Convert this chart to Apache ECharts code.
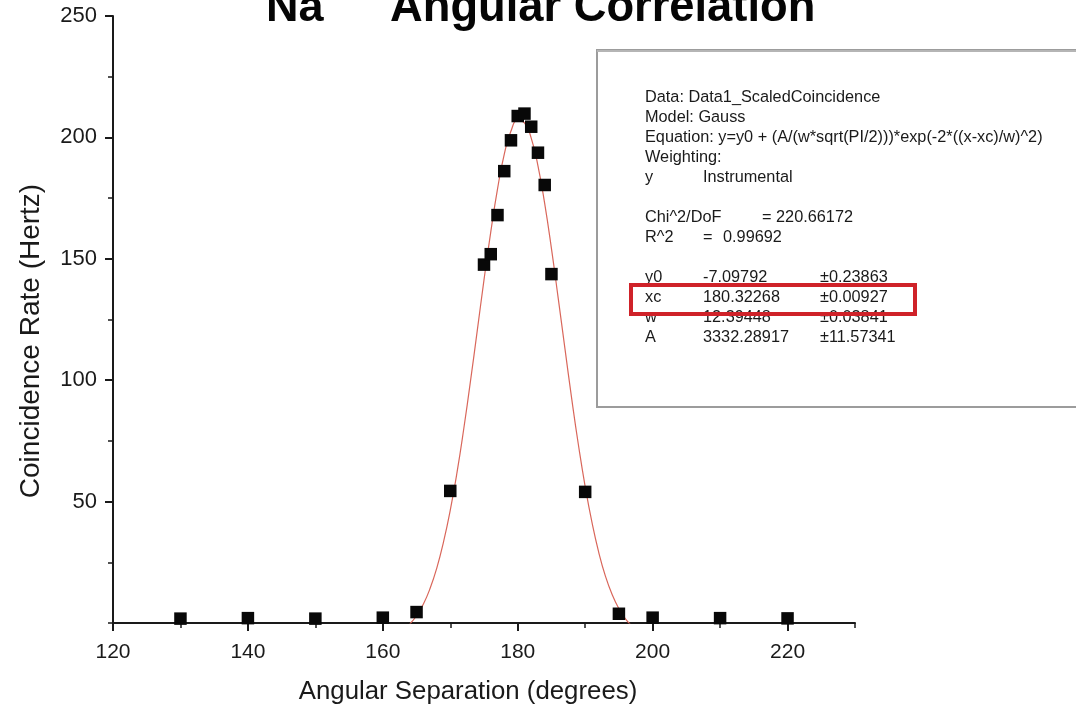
<!DOCTYPE html>
<html>
<head>
<meta charset="utf-8">
<script src="https://cdn.jsdelivr.net/npm/echarts@6/dist/echarts.min.js"></script>
<style>
html,body{margin:0;padding:0;background:#fff;}
#chart{width:1076px;height:711px;}
</style>
</head>
<body>
<div id="chart"></div>
<script>
// Measured data (angular separation in degrees, coincidence rate in Hz)
const angles = [130,140,150,160,165,170,175,176,177,178,179,180,181,182,183,184,185,190,195,200,210,220];
const rates  = [1.8,2.0,1.8,2.2,4.5,54.4,147.6,151.9,168.0,186.1,198.8,208.8,209.8,204.4,193.7,180.4,143.7,54.0,3.8,2.2,2.0,1.9];

// Fit curve (red line)
const fitAngles = [164,165,166,167,168,169,170,171,172,173,174,175,176,177,178,179,180,181,182,183,184,185,186,187,188,189,190,191,192,193,194,195,196,197];
const fitRates  = [-0.4,3,7.7,14.2,22.6,33.4,46.5,62,80,99.7,120.4,141.3,161,178.7,193,202.6,207,206,199.7,188.3,172.7,154.2,133.8,113,92.4,73.3,56.2,41.5,29.2,19.3,11.7,5.9,1.6,-1.4];

// Axis ticks
const xTickLabels = [120,140,160,180,200,220];
const yTickLabels = [50,100,150,200,250];

// Title and fit report text
const titleMain = 'Angular Correlation';
const titleElem = 'Na';
const titleSup = '22';
const reportLines = [
  ['Data: Data1_ScaledCoincidence'],
  ['Model: Gauss'],
  ['Equation: y=y0 + (A/(w*sqrt(PI/2)))*exp(-2*((x-xc)/w)^2)'],
  ['Weighting:'],
  ['y', 'Instrumental'],
  [],
  ['Chi^2/DoF', '= 220.66172'],
  ['R^2', '=', '0.99692'],
  [],
  ['y0', '-7.09792', '\u00b10.23863'],
  ['xc', '180.32268', '\u00b10.00927'],
  ['w', '12.39448', '\u00b10.03841'],
  ['A', '3332.28917', '\u00b111.57341']
];

const FONT = "'Liberation Sans', Arial, Helvetica, sans-serif";
const chart = echarts.init(document.getElementById('chart'), null, {renderer: 'canvas'});

function txt(x, y, s, size, opts) {
  opts = opts || {};
  return {
    type: 'text', x: x, y: y, rotation: opts.rotation || 0, z: 100,
    style: {
      text: s, x: 0, y: 0,
      fill: opts.color || '#111',
      font: (opts.bold ? 'bold ' : '') + size + 'px ' + FONT,
      align: opts.align || 'left', textAlign: opts.align || 'left',
      verticalAlign: 'middle', textVerticalAlign: 'middle'
    }
  };
}

const graphics = [];
// Title (top part clipped by the page edge)
graphics.push(txt(266, 9, titleElem, 45, {bold: true, color: '#050505'}));
graphics.push(txt(329, -22, titleSup, 27, {bold: true, color: '#050505'}));
graphics.push(txt(390, 9, titleMain, 45.3, {bold: true, color: '#050505'}));
// Axis titles
graphics.push(txt(468, 692, 'Angular Separation (degrees)', 25.8, {align: 'center', color: '#1a1a1a'}));
graphics.push(txt(31, 341, 'Coincidence Rate (Hertz)', 28, {align: 'center', color: '#1a1a1a', rotation: Math.PI / 2}));
// Report box
graphics.push({
  type: 'rect', z: 50,
  shape: {x: 597, y: 50, width: 520, height: 357},
  style: {fill: '#fff', stroke: '#9c9c9c', lineWidth: 2}
});
graphics.push({
  type: 'line', z: 51,
  shape: {x1: 597, y1: 51, x2: 1100, y2: 51},
  style: {stroke: '#b5b5b5', lineWidth: 2}
});
const colX = [645, 703, 820];
reportLines.forEach(function (row, i) {
  const y = 98 + i * 20;
  row.forEach(function (s, j) {
    let x = colX[j];
    if (i === 6 && j === 1) x = 762;
    if (i === 7 && j === 2) x = 723;
    graphics.push(txt(x, y, s, 16.3, {color: '#1a1a1a'}));
  });
});
graphics.push({
  type: 'rect', z: 120,
  shape: {x: 631, y: 285, width: 284, height: 29},
  style: {fill: 'none', stroke: '#cf2229', lineWidth: 4}
});

const axisLineStyle = {color: '#1a1a1a', width: 2};
const xLabelStyle = {color: '#1a1a1a', fontSize: 21, fontFamily: FONT};
const yLabelStyle = {color: '#1a1a1a', fontSize: 22, fontFamily: FONT};

chart.setOption({
  animation: false,
  backgroundColor: '#fff',
  grid: {left: 113, right: 221, top: 16, bottom: 88, containLabel: false},
  xAxis: [{
    type: 'value', min: 120, max: 230, interval: 20, position: 'bottom',
    axisLine: {show: true, onZero: false, lineStyle: axisLineStyle},
    axisTick: {show: true, length: 8, lineStyle: axisLineStyle},
    axisLabel: Object.assign({margin: 19, showMaxLabel: false,
      formatter: function (v) { return xTickLabels.indexOf(v) >= 0 ? String(v) : ''; }}, xLabelStyle),
    splitLine: {show: false}
  }, {
    type: 'value', min: 120, max: 230, interval: 10, position: 'bottom',
    axisLine: {show: false, onZero: false},
    axisTick: {show: true, length: 5, lineStyle: {color: '#1a1a1a', width: 1.5}},
    axisLabel: {show: false},
    splitLine: {show: false}
  }],
  yAxis: [{
    type: 'value', min: 0, max: 250, interval: 50, position: 'left',
    axisLine: {show: true, onZero: false, lineStyle: axisLineStyle},
    axisTick: {show: true, length: 8, lineStyle: axisLineStyle},
    axisLabel: Object.assign({margin: 16, showMinLabel: false,
      formatter: function (v) { return yTickLabels.indexOf(v) >= 0 ? String(v) : ''; }}, yLabelStyle),
    splitLine: {show: false}
  }, {
    type: 'value', min: 0, max: 250, interval: 25, position: 'left',
    axisLine: {show: false, onZero: false},
    axisTick: {show: true, length: 5, lineStyle: {color: '#1a1a1a', width: 1.5}},
    axisLabel: {show: false},
    splitLine: {show: false}
  }],
  series: [{
    type: 'line', name: 'Gauss fit', xAxisIndex: 0, yAxisIndex: 0,
    data: fitAngles.map(function (a, i) { return [a, fitRates[i]]; }),
    smooth: true, showSymbol: false, clip: true, z: 2,
    lineStyle: {color: '#d9675b', width: 1.2}
  }, {
    type: 'scatter', name: 'Data', xAxisIndex: 0, yAxisIndex: 0,
    data: angles.map(function (a, i) { return [a, rates[i]]; }),
    symbol: 'rect', symbolSize: 12.5, z: 3,
    itemStyle: {color: '#080808', opacity: 1}
  }],
  graphic: graphics
});
</script>
</body>
</html>
